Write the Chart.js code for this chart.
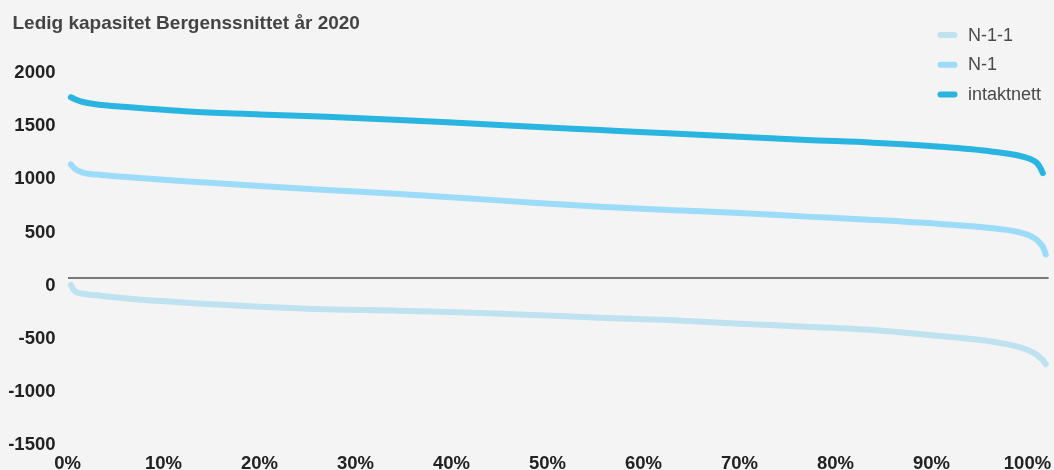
<!DOCTYPE html>
<html>
<head>
<meta charset="utf-8">
<script src="https://cdn.jsdelivr.net/npm/chart.js@4"></script>
<style>
  html, body { margin: 0; padding: 0; background: #f4f4f4; }
  canvas { display: block; }
</style>
</head>
<body>
<canvas id="c" width="1054" height="470"></canvas>
<script>
// ---- data ----
const titleText = 'Ledig kapasitet Bergenssnittet år 2020';
const seriesNames = ['N-1-1', 'N-1', 'intaktnett'];
const seriesColors = ['#bfe2f0', '#9ddcf8', '#29b5e0'];
// x position in percent of hours
const xPct = [0.35, 0.7, 1.5, 3.6, 5.7, 7.8, 13.1, 20.0, 27.0, 34.6, 41.6, 48.5, 55.5, 62.5, 70.0, 77.0, 83.9, 90.9, 96.4, 99.5, 101.0, 101.3, 101.6, 101.9];
const n11 = [-63, -117, -143, -166, -185, -203, -234, -267, -292, -305, -323, -345, -371, -393, -428, -455, -486, -543, -597, -658, -722, -747, -769, -810];
const n1 = [1072, 1035, 997, 972, 956, 941, 909, 868, 830, 794, 753, 711, 673, 642, 615, 580, 549, 511, 470, 424, 360, 329, 297, 224];
const intakt = [1703, 1688, 1661, 1630, 1614, 1599, 1567, 1542, 1520, 1490, 1458, 1426, 1395, 1364, 1332, 1301, 1276, 1238, 1191, 1144, 1082, 1044, 990, null];
const xTicks = [0, 10, 20, 30, 40, 50, 60, 70, 80, 90, 100];
const yTicks = [-1500, -1000, -500, 0, 500, 1000, 1500, 2000];

const seriesValues = [n11, n1, intakt];
const FONT = "'Liberation Sans', Arial, Helvetica, sans-serif";

const datasets = seriesNames.map((name, i) => ({
  label: name,
  data: xPct.map((x, j) => ({ x: x, y: seriesValues[i][j] })),
  borderColor: seriesColors[i],
  backgroundColor: seriesColors[i],
  borderWidth: 6,
  borderCapStyle: 'round',
  borderJoinStyle: 'round',
  pointRadius: 0,
  fill: false,
  cubicInterpolationMode: 'monotone',
  spanGaps: false,
  clip: false
}));

const bgPlugin = {
  id: 'bg',
  beforeDraw(chart) {
    const ctx = chart.ctx;
    ctx.save();
    ctx.fillStyle = '#f4f4f4';
    ctx.fillRect(0, 0, chart.width, chart.height);
    ctx.restore();
  }
};

const titleLegendPlugin = {
  id: 'titleLegend',
  afterDraw(chart) {
    const ctx = chart.ctx;
    ctx.save();
    ctx.fillStyle = '#444';
    ctx.font = 'bold 19px ' + FONT;
    ctx.textAlign = 'left';
    ctx.textBaseline = 'alphabetic';
    ctx.fillText(titleText, 12.5, 28.5);

    ctx.font = '18px ' + FONT;
    chart.data.datasets.forEach((ds, i) => {
      const y = 35 + i * 29.7;
      ctx.strokeStyle = ds.borderColor;
      ctx.lineWidth = 6;
      ctx.lineCap = 'round';
      ctx.beginPath();
      ctx.moveTo(940.5, y);
      ctx.lineTo(954.5, y);
      ctx.stroke();
      ctx.fillStyle = '#4a4a4a';
      ctx.fillText(ds.label, 968, y + 5.5);
    });
    ctx.restore();
  }
};

new Chart(document.getElementById('c'), {
  type: 'line',
  data: { datasets: datasets },
  plugins: [bgPlugin, titleLegendPlugin],
  options: {
    responsive: false,
    devicePixelRatio: 1,
    animation: false,
    events: [],
    layout: { padding: { top: 65.7, right: 5.4, left: 0, bottom: 0 } },
    plugins: {
      legend: { display: false },
      title: { display: false },
      tooltip: { enabled: false }
    },
    scales: {
      x: {
        type: 'linear',
        min: 0,
        max: 102.2,
        grid: { display: false, drawTicks: false },
        border: { display: false },
        afterBuildTicks(axis) { axis.ticks = xTicks.map(v => ({ value: v })); },
        afterFit(axis) { axis.height = 32.3; axis.paddingLeft = 0; axis.paddingRight = 0; },
        ticks: {
          padding: 15,
          maxRotation: 0,
          autoSkip: false,
          color: '#222',
          font: { family: FONT, size: 18.5, weight: 'bold' },
          callback: v => v + '%'
        }
      },
      y: {
        type: 'linear',
        min: -1500,
        max: 2000,
        grid: {
          drawTicks: false,
          lineWidth: 2,
          color: c => (c.tick && c.tick.value === 0) ? '#797979' : 'rgba(0,0,0,0)'
        },
        border: { display: false },
        afterBuildTicks(axis) { axis.ticks = yTicks.map(v => ({ value: v })); },
        afterFit(axis) { axis.width = 67.5; axis.paddingTop = 0; axis.paddingBottom = 0; },
        ticks: {
          padding: 12,
          labelOffset: 7.3,
          color: '#222',
          font: { family: FONT, size: 18.5, weight: 'bold' },
          callback: v => String(v)
        }
      }
    }
  }
});
</script>
</body>
</html>
